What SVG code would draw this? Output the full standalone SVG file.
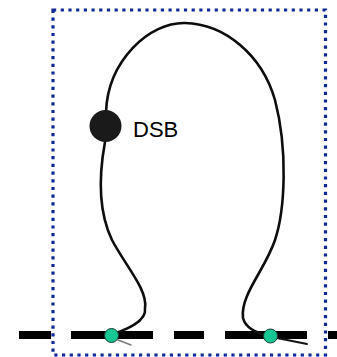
<svg xmlns="http://www.w3.org/2000/svg" width="337" height="357" viewBox="0 0 337 357">
  <style>
    .strand { fill: none; stroke: #0d0d0d; stroke-width: 2.6; stroke-linecap: round; }
    .tail { fill: none; stroke: #777; stroke-width: 1.4; stroke-linecap: round; }
    .tail-dark { fill: none; stroke: #111; stroke-width: 2; stroke-linecap: round; }
    .dna { fill: #000; }
    .site { fill: #17c793; stroke: #1d3b33; stroke-width: 1; }
    .frame { fill: none; stroke: #0f2a96; stroke-width: 3.2; stroke-dasharray: 3.2 4.5; }
    .label { font-family: "Liberation Sans", Arial, sans-serif; font-size: 22px; fill: #000; }
  </style>

  <!-- chromosome axis, drawn as a heavy dashed line -->
  <g id="axis">
    <rect class="dna" x="19" y="331" width="32" height="8"/>
    <rect class="dna" x="71" y="331" width="82" height="8"/>
    <rect class="dna" x="174" y="331" width="30" height="8"/>
    <rect class="dna" x="225" y="331" width="82" height="8"/>
    <rect class="dna" x="328" y="331" width="12" height="8"/>
  </g>

  <!-- loop of chromatin between the two anchor sites -->
  <g id="connectors">
    <path class="tail" d="M 118 340 L 131 345"/>
    <path class="tail-dark" d="M 277 338 L 307 344"/>
    <path class="strand" d="M 113 334 C 125 330, 147 322, 145 308 C 148 290, 125 265, 112 240 C 100 215, 98 180, 105 142"/>
    <path class="strand" d="M 106 112 C 108 60, 150 22, 185 23 C 225 24, 262 55, 275 100 C 288 150, 285 210, 275 240 C 265 270, 240 295, 243 318 C 246 330, 260 334, 270 336"/>
  </g>

  <g id="dsb">
    <circle cx="105.5" cy="126" r="16" fill="#1a1a1a"/>
    <text class="label" x="133" y="137">DSB</text>
  </g>

  <g id="site-left">
    <circle class="site" cx="111.5" cy="335.5" r="7"/>
  </g>
  <g id="site-right">
    <circle class="site" cx="270.5" cy="336" r="7"/>
  </g>

  <!-- dotted outline around the loop -->
  <g id="frame">
    <rect class="frame" x="53" y="10" width="272.5" height="345"/>
  </g>
</svg>
